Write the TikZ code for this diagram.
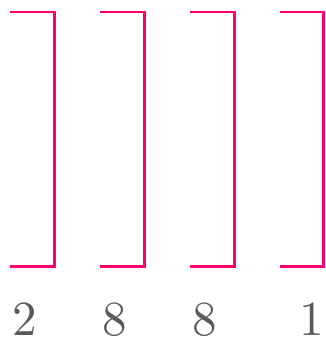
\documentclass[tikz,border=0pt]{standalone}
\usepackage{tikz}
\usepackage{graphicx}
\usetikzlibrary{positioning}
\definecolor{bracketpink}{RGB}{255,0,110}
\definecolor{digitgray}{RGB}{90,90,90}
\newcommand{\bigdigit}[1]{\scalebox{4.9}{#1}}
\tikzset{
  bracketline/.style={draw=bracketpink, line width=2.3pt},
  digitlabel/.style={text=digitgray, inner sep=0pt, anchor=base}
}

\begin{document}
\begin{tikzpicture}[x=1pt, y=-1pt]
        \useasboundingbox (0,0) rectangle (325,338);

        % brackets
        \draw[bracketline] (10,12) -- (54.5,12) -- (54.5,266.5) -- (10,266.5);
        \draw[bracketline] (100,12) -- (144.5,12) -- (144.5,266.5) -- (100,266.5);
        \draw[bracketline] (190,12) -- (234.5,12) -- (234.5,266.5) -- (190,266.5);
        \draw[bracketline] (280,12) -- (323.5,12) -- (323.5,266.5) -- (280,266.5);

        % digits
        \node[digitlabel] (dA) at (24.5,335.5) {\bigdigit{2}};
        \node[digitlabel] (dB) at (115,335.5) {\bigdigit{8}};
        \node[digitlabel] (dC) at (205,335.5) {\bigdigit{8}};
        \node[digitlabel] (dD) at (311.5,335.5) {\bigdigit{1}};
\end{tikzpicture}
\end{document}
